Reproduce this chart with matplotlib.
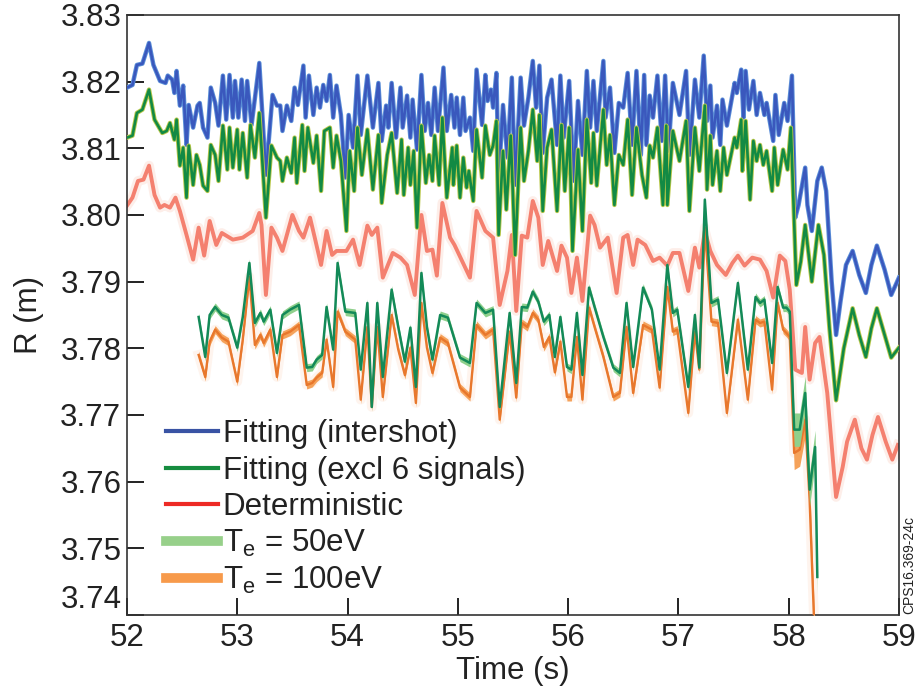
import numpy as np
import matplotlib
matplotlib.use('Agg')
import matplotlib.pyplot as plt
from matplotlib.lines import Line2D

plt.rcParams['font.family'] = ['Liberation Sans', 'DejaVu Sans']
plt.rcParams['mathtext.fontset'] = 'custom'
plt.rcParams['mathtext.rm'] = 'Liberation Sans'

# Fitting (intershot)
t_intershot = [52.00, 52.05, 52.09, 52.14, 52.20, 52.24, 52.30, 52.35, 52.37, 52.41, 52.43, 52.45, 52.48, 52.51,
               52.54, 52.56, 52.60, 52.64, 52.66, 52.69, 52.73, 52.76, 52.80, 52.83, 52.87, 52.90, 52.93, 52.96,
               52.98, 53.01, 53.04, 53.07, 53.09, 53.13, 53.20, 53.26, 53.32, 53.36, 53.39, 53.41, 53.45, 53.49,
               53.52, 53.55, 53.60, 53.62, 53.65, 53.69, 53.72, 53.75, 53.78, 53.81, 53.84, 53.87, 53.90, 53.94,
               53.98, 54.01, 54.05, 54.09, 54.12, 54.18, 54.23, 54.28, 54.31, 54.35, 54.37, 54.40, 54.44, 54.48,
               54.50, 54.54, 54.57, 54.59, 54.63, 54.67, 54.70, 54.73, 54.76, 54.79, 54.82, 54.87, 54.90, 54.94,
               54.97, 54.99, 55.02, 55.05, 55.07, 55.11, 55.14, 55.17, 55.22, 55.25, 55.27, 55.30, 55.32, 55.35,
               55.37, 55.41, 55.45, 55.49, 55.52, 55.57, 55.60, 55.64, 55.68, 55.71, 55.74, 55.77, 55.81, 55.85,
               55.90, 55.93, 55.96, 56.01, 56.05, 56.09, 56.13, 56.17, 56.20, 56.23, 56.26, 56.32, 56.34, 56.38,
               56.42, 56.46, 56.50, 56.54, 56.58, 56.62, 56.66, 56.69, 56.71, 56.74, 56.77, 56.81, 56.85, 56.88,
               56.91, 56.95, 57.01, 57.07, 57.10, 57.15, 57.19, 57.23, 57.26, 57.29, 57.31, 57.35, 57.38, 57.40,
               57.44, 57.51, 57.53, 57.57, 57.59, 57.61, 57.64, 57.68, 57.71, 57.74, 57.78, 57.80, 57.86, 57.88,
               57.91, 57.96, 57.99, 58.03, 58.06, 58.09, 58.15, 58.17, 58.21, 58.26, 58.30, 58.34, 58.39, 58.43,
               58.47, 58.52, 58.58, 58.64, 58.70, 58.75, 58.80, 58.87, 58.93, 59.00]
r_intershot = [3.8191, 3.8195, 3.8225, 3.8227, 3.8258, 3.8225, 3.8201, 3.8198, 3.8209, 3.8203, 3.8183, 3.8216, 3.8164, 3.8194,
               3.8105, 3.8165, 3.8131, 3.8164, 3.8168, 3.8131, 3.8116, 3.8191, 3.8168, 3.8134, 3.8209, 3.8143, 3.8210, 3.8146,
               3.8201, 3.8146, 3.8203, 3.8141, 3.8201, 3.8135, 3.8228, 3.8060, 3.8180, 3.8164, 3.8164, 3.8126, 3.8164, 3.8141,
               3.8191, 3.8165, 3.8224, 3.8146, 3.8209, 3.8150, 3.8191, 3.8161, 3.8195, 3.8171, 3.8210, 3.8146, 3.8194, 3.8150,
               3.8056, 3.8150, 3.8101, 3.8209, 3.8120, 3.8209, 3.8131, 3.8198, 3.8111, 3.8164, 3.8131, 3.8198, 3.8116, 3.8191,
               3.8131, 3.8179, 3.8116, 3.8173, 3.8098, 3.8210, 3.8126, 3.8168, 3.8120, 3.8191, 3.8126, 3.8221, 3.8126, 3.8180,
               3.8131, 3.8176, 3.8120, 3.8176, 3.8126, 3.8146, 3.8096, 3.8218, 3.8135, 3.8210, 3.8171, 3.8188, 3.8161, 3.8213,
               3.8051, 3.8165, 3.8086, 3.8206, 3.8045, 3.8206, 3.8134, 3.8176, 3.8231, 3.8161, 3.8224, 3.8093, 3.8176, 3.8203,
               3.8105, 3.8209, 3.8116, 3.8201, 3.8051, 3.8171, 3.8090, 3.8216, 3.8131, 3.8201, 3.8126, 3.8231, 3.8146, 3.8191,
               3.8093, 3.8168, 3.8161, 3.8213, 3.8105, 3.8216, 3.8090, 3.8210, 3.8105, 3.8179, 3.8146, 3.8209, 3.8111, 3.8209,
               3.8096, 3.8198, 3.8150, 3.8216, 3.8090, 3.8203, 3.8146, 3.8239, 3.8141, 3.8194, 3.8116, 3.8164, 3.8105, 3.8173,
               3.8134, 3.8198, 3.8183, 3.8218, 3.8146, 3.8216, 3.8158, 3.8201, 3.8150, 3.8183, 3.8150, 3.8168, 3.8111, 3.8180,
               3.8120, 3.8168, 3.8141, 3.8209, 3.7996, 3.8015, 3.8071, 3.8015, 3.7976, 3.8051, 3.8071, 3.8036, 3.7900, 3.7820,
               3.7870, 3.7925, 3.7946, 3.7910, 3.7883, 3.7925, 3.7954, 3.7918, 3.7880, 3.7906]

# Fitting (excl 6 signals)
t_excl = [52.00, 52.05, 52.09, 52.14, 52.20, 52.25, 52.32, 52.36, 52.39, 52.43, 52.45, 52.48, 52.51, 52.54,
          52.56, 52.60, 52.63, 52.66, 52.69, 52.73, 52.76, 52.80, 52.83, 52.87, 52.91, 52.93, 52.96, 53.00,
          53.02, 53.05, 53.09, 53.12, 53.16, 53.20, 53.26, 53.31, 53.36, 53.39, 53.41, 53.45, 53.49, 53.52,
          53.54, 53.59, 53.61, 53.64, 53.69, 53.72, 53.76, 53.79, 53.84, 53.87, 53.90, 53.94, 53.99, 54.02,
          54.06, 54.09, 54.13, 54.18, 54.23, 54.28, 54.31, 54.36, 54.40, 54.45, 54.49, 54.51, 54.55, 54.57,
          54.60, 54.63, 54.67, 54.71, 54.74, 54.77, 54.79, 54.83, 54.86, 54.90, 54.95, 54.96, 54.99, 55.02,
          55.05, 55.08, 55.10, 55.14, 55.17, 55.22, 55.25, 55.29, 55.32, 55.35, 55.37, 55.41, 55.44, 55.48,
          55.52, 55.57, 55.60, 55.64, 55.68, 55.72, 55.74, 55.77, 55.81, 55.85, 55.90, 55.94, 55.97, 56.01,
          56.04, 56.09, 56.13, 56.17, 56.21, 56.23, 56.26, 56.32, 56.35, 56.38, 56.42, 56.46, 56.50, 56.54,
          56.58, 56.62, 56.67, 56.71, 56.74, 56.77, 56.81, 56.86, 56.89, 56.90, 56.95, 57.01, 57.07, 57.10,
          57.15, 57.19, 57.24, 57.26, 57.29, 57.31, 57.35, 57.38, 57.41, 57.44, 57.51, 57.53, 57.57, 57.58,
          57.61, 57.65, 57.68, 57.71, 57.74, 57.77, 57.80, 57.85, 57.87, 57.90, 57.95, 57.99, 58.02, 58.07,
          58.11, 58.15, 58.21, 58.27, 58.32, 58.37, 58.43, 58.50, 58.58, 58.64, 58.70, 58.75, 58.80, 58.87,
          58.93, 59.00]
r_excl = [3.8116, 3.8119, 3.8153, 3.8158, 3.8188, 3.8143, 3.8123, 3.8126, 3.8138, 3.8113, 3.8143, 3.8074, 3.8101, 3.8026,
          3.8104, 3.8045, 3.8090, 3.8075, 3.8044, 3.8036, 3.8105, 3.8090, 3.8051, 3.8134, 3.8068, 3.8131, 3.8071, 3.8128,
          3.8068, 3.8123, 3.8056, 3.8135, 3.8086, 3.8153, 3.7996, 3.8104, 3.8086, 3.8081, 3.8051, 3.8086, 3.8063, 3.8116,
          3.8048, 3.8135, 3.8066, 3.8131, 3.8078, 3.8119, 3.8036, 3.8126, 3.8131, 3.8071, 3.8119, 3.8081, 3.7976, 3.8096,
          3.8036, 3.8131, 3.8060, 3.8128, 3.8038, 3.8120, 3.8018, 3.8090, 3.8123, 3.8033, 3.8113, 3.8030, 3.8101, 3.8045,
          3.8096, 3.7981, 3.8134, 3.8048, 3.8090, 3.8051, 3.8119, 3.8045, 3.8146, 3.8026, 3.8101, 3.8045, 3.8104, 3.8026,
          3.8086, 3.8041, 3.8066, 3.8021, 3.8128, 3.8056, 3.8134, 3.8090, 3.8104, 3.8141, 3.7970, 3.8096, 3.8008, 3.8119,
          3.7940, 3.8131, 3.8051, 3.8096, 3.8158, 3.8081, 3.8150, 3.8006, 3.8101, 3.8128, 3.8006, 3.8135, 3.8036, 3.8131,
          3.7946, 3.8098, 3.7976, 3.8143, 3.8048, 3.8123, 3.8044, 3.8158, 3.8075, 3.8120, 3.8015, 3.8090, 3.8075, 3.8143,
          3.8030, 3.8131, 3.8060, 3.8026, 3.8104, 3.8086, 3.8131, 3.8015, 3.8134, 3.8015, 3.8126, 3.8081, 3.8141, 3.8006,
          3.8131, 3.8066, 3.8164, 3.8038, 3.8119, 3.8045, 3.8096, 3.8036, 3.8101, 3.8060, 3.8116, 3.8101, 3.8143, 3.8066,
          3.8141, 3.8023, 3.8111, 3.8081, 3.8105, 3.8075, 3.8096, 3.8036, 3.8101, 3.8045, 3.8098, 3.8068, 3.8131, 3.7895,
          3.7930, 3.7985, 3.7900, 3.7985, 3.7940, 3.7830, 3.7722, 3.7800, 3.7860, 3.7820, 3.7787, 3.7830, 3.7860, 3.7820,
          3.7786, 3.7801]

# Deterministic
t_det = [52.00, 52.05, 52.10, 52.15, 52.20, 52.25, 52.30, 52.34, 52.39, 52.44, 52.48, 52.54, 52.60, 52.65,
         52.70, 52.75, 52.81, 52.86, 52.96, 53.05, 53.14, 53.20, 53.22, 53.26, 53.31, 53.36, 53.41, 53.46,
         53.50, 53.56, 53.60, 53.66, 53.71, 53.76, 53.81, 53.86, 53.90, 53.99, 54.05, 54.11, 54.18, 54.22,
         54.27, 54.32, 54.41, 54.48, 54.54, 54.61, 54.67, 54.72, 54.77, 54.81, 54.86, 54.93, 54.97, 55.11,
         55.17, 55.25, 55.32, 55.38, 55.45, 55.49, 55.53, 55.58, 55.63, 55.68, 55.73, 55.77, 55.82, 55.90,
         55.94, 55.99, 56.03, 56.08, 56.13, 56.20, 56.24, 56.29, 56.36, 56.44, 56.50, 56.54, 56.59, 56.63,
         56.70, 56.77, 56.83, 56.90, 56.95, 57.01, 57.09, 57.15, 57.19, 57.24, 57.29, 57.35, 57.43, 57.49,
         57.54, 57.60, 57.67, 57.74, 57.80, 57.86, 57.92, 57.97, 58.01, 58.06, 58.12, 58.15, 58.19, 58.24,
         58.28, 58.35, 58.43, 58.49, 58.53, 58.60, 58.66, 58.71, 58.76, 58.81, 58.88, 58.94, 58.99]
r_det = [3.8014, 3.8026, 3.8051, 3.8053, 3.8074, 3.8030, 3.8011, 3.8015, 3.8011, 3.8026, 3.8006, 3.7970, 3.7933, 3.7981,
         3.7939, 3.7991, 3.7955, 3.7973, 3.7963, 3.7966, 3.7976, 3.8003, 3.7985, 3.7880, 3.7981, 3.7966, 3.7946, 3.7976,
         3.8000, 3.7976, 3.7966, 3.7996, 3.7961, 3.7925, 3.7976, 3.7940, 3.7946, 3.7946, 3.7963, 3.7925, 3.7984, 3.7970,
         3.7981, 3.7906, 3.7943, 3.7936, 3.7925, 3.7880, 3.8000, 3.7946, 3.7948, 3.7909, 3.8018, 3.7966, 3.7955, 3.7906,
         3.8006, 3.7976, 3.7966, 3.7865, 3.7916, 3.7970, 3.7856, 3.7969, 3.7966, 3.8021, 3.7996, 3.7925, 3.7961, 3.7916,
         3.7954, 3.7936, 3.7883, 3.7936, 3.7871, 3.7999, 3.7985, 3.7951, 3.7966, 3.7883, 3.7966, 3.7970, 3.7925, 3.7963,
         3.7955, 3.7931, 3.7936, 3.7924, 3.7943, 3.7943, 3.7886, 3.7951, 3.7921, 3.7976, 3.7946, 3.7925, 3.7910, 3.7928,
         3.7939, 3.7924, 3.7936, 3.7933, 3.7916, 3.7876, 3.7939, 3.7931, 3.7888, 3.7768, 3.7763, 3.7832, 3.7753, 3.7808,
         3.7817, 3.7733, 3.7577, 3.7622, 3.7660, 3.7693, 3.7650, 3.7633, 3.7670, 3.7697, 3.7660, 3.7633, 3.7655]

# Te = 50eV and Te = 100eV (same time base)
t_te = [52.65, 52.71, 52.75, 52.80, 52.86, 52.92, 53.00, 53.05, 53.11, 53.16, 53.21, 53.24, 53.30, 53.36,
        53.41, 53.48, 53.56, 53.63, 53.68, 53.72, 53.77, 53.81, 53.87, 53.91, 53.98, 54.07, 54.12, 54.18,
        54.22, 54.27, 54.32, 54.40, 54.46, 54.52, 54.57, 54.62, 54.67, 54.72, 54.77, 54.84, 54.91, 55.02,
        55.11, 55.17, 55.25, 55.32, 55.38, 55.47, 55.53, 55.58, 55.63, 55.68, 55.73, 55.78, 55.83, 55.88,
        55.93, 55.99, 56.03, 56.08, 56.13, 56.19, 56.24, 56.32, 56.41, 56.47, 56.53, 56.59, 56.68, 56.76,
        56.83, 56.90, 56.95, 56.99, 57.09, 57.15, 57.19, 57.24, 57.30, 57.36, 57.44, 57.54, 57.63, 57.70,
        57.74, 57.78, 57.85, 57.90, 57.95, 57.98, 58.01, 58.05, 58.10, 58.15, 58.19, 58.24, 58.26]
r_te50 = [3.7847, 3.7787, 3.7850, 3.7862, 3.7850, 3.7846, 3.7801, 3.7847, 3.7928, 3.7838, 3.7853, 3.7840, 3.7858, 3.7793,
          3.7850, 3.7858, 3.7865, 3.7771, 3.7772, 3.7783, 3.7790, 3.7862, 3.7798, 3.7928, 3.7855, 3.7853, 3.7768, 3.7868,
          3.7712, 3.7868, 3.7757, 3.7888, 3.7832, 3.7780, 3.7831, 3.7742, 3.7913, 3.7832, 3.7783, 3.7850, 3.7846, 3.7786,
          3.7778, 3.7868, 3.7853, 3.7858, 3.7712, 3.7853, 3.7748, 3.7862, 3.7861, 3.7885, 3.7870, 3.7840, 3.7850, 3.7787,
          3.7847, 3.7772, 3.7768, 3.7853, 3.7760, 3.7891, 3.7862, 3.7817, 3.7771, 3.7763, 3.7868, 3.7772, 3.7891, 3.7858,
          3.7768, 3.7925, 3.7853, 3.7858, 3.7742, 3.7850, 3.7771, 3.8023, 3.7868, 3.7873, 3.7763, 3.7898, 3.7768, 3.7877,
          3.7868, 3.7873, 3.7778, 3.7892, 3.7861, 3.7861, 3.7855, 3.7678, 3.7678, 3.7733, 3.7588, 3.7652, 3.7457]
r_te100 = [3.7790, 3.7757, 3.7810, 3.7828, 3.7816, 3.7810, 3.7750, 3.7813, 3.7907, 3.7805, 3.7820, 3.7808, 3.7828, 3.7757,
           3.7820, 3.7825, 3.7835, 3.7745, 3.7748, 3.7756, 3.7763, 3.7813, 3.7742, 3.7855, 3.7825, 3.7813, 3.7723, 3.7832,
           3.7712, 3.7832, 3.7727, 3.7850, 3.7798, 3.7760, 3.7801, 3.7718, 3.7868, 3.7801, 3.7763, 3.7816, 3.7808, 3.7741,
           3.7727, 3.7835, 3.7820, 3.7828, 3.7693, 3.7825, 3.7726, 3.7838, 3.7832, 3.7853, 3.7843, 3.7802, 3.7817, 3.7764,
           3.7810, 3.7727, 3.7727, 3.7817, 3.7723, 3.7861, 3.7832, 3.7787, 3.7727, 3.7733, 3.7832, 3.7733, 3.7835, 3.7828,
           3.7741, 3.7892, 3.7825, 3.7828, 3.7703, 3.7825, 3.7768, 3.7981, 3.7840, 3.7838, 3.7703, 3.7843, 3.7723, 3.7843,
           3.7838, 3.7840, 3.7738, 3.7868, 3.7828, 3.7823, 3.7817, 3.7643, 3.7648, 3.7693, 3.7573, 3.7348, 3.7200]
# half widths of the shaded bands
te_band = 0.0006
te_band_late = 0.0025

t_te = np.array(t_te)
band = np.where(t_te > 58.02, te_band_late, te_band)

fig = plt.figure(figsize=(9.2, 6.92), dpi=100)
ax = fig.add_axes([0.138, 0.1113, 0.8391, 0.8671])

# faint halos first
ax.plot(t_det, r_det, color='#fdeee9', lw=7, solid_joinstyle='round', zorder=1)
ax.plot(t_te, r_te100, color='#fef4ee', lw=7, zorder=1)

ax.plot(t_intershot, r_intershot, color='#5b8fd8', lw=3.2, zorder=3)
ax.plot(t_intershot, r_intershot, color='#3a58bd', lw=1.9, zorder=3)
ax.plot(t_excl, r_excl, color='#b9c84a', lw=3.2, zorder=3)
ax.plot(t_excl, r_excl, color='#128a44', lw=1.9, zorder=3)
ax.plot(t_det, r_det, color='#f4806f', lw=2.8, zorder=2)

ax.fill_between(t_te, np.array(r_te100) - band, np.array(r_te100) + band, color='#f5a25a', lw=0, zorder=4)
ax.plot(t_te, r_te100, color='#e8772c', lw=1.7, zorder=4)
ax.fill_between(t_te, np.array(r_te50) - band, np.array(r_te50) + band, color='#8fd08c', lw=0, zorder=5)
ax.plot(t_te, r_te50, color='#138a58', lw=1.8, zorder=5)

ax.set_xlim(52, 59)
ax.set_ylim(3.74, 3.83)
ax.set_xticks(np.arange(52, 60, 1))
ax.set_yticks(np.arange(3.74, 3.8351, 0.01))
ax.set_yticklabels(['%.2f' % v for v in np.arange(3.74, 3.8351, 0.01)])
ax.tick_params(direction='in', length=12, width=1.4, colors='#222222', top=False, right=False)
ax.tick_params(axis='y', labelsize=22.5, pad=4)
ax.tick_params(axis='x', labelsize=22.5, pad=6)
ax.get_yticklabels()[0].set_verticalalignment('bottom')
for sp in ax.spines.values():
    sp.set_color('#333333')
    sp.set_linewidth(1.2)

ax.set_xlabel('Time (s)', fontsize=22.5, labelpad=2, color='#222222')
ax.set_ylabel('R (m)', fontsize=22.5, labelpad=12, color='#222222')

handles = [Line2D([], [], color='#3953a4', lw=3),
           Line2D([], [], color='#168c3f', lw=3),
           Line2D([], [], color='#ed2a25', lw=3),
           Line2D([], [], color='#97d08a', lw=7),
           Line2D([], [], color='#f79a4b', lw=7)]
labels = ['Fitting (intershot)', 'Fitting (excl 6 signals)', 'Deterministic',
          r'T$_\mathregular{e}$ = 50eV', r'T$_\mathregular{e}$ = 100eV']
leg = ax.legend(handles, labels, loc='lower left', bbox_to_anchor=(0.035, 0.01), frameon=False,
                fontsize=22.5, handlelength=1.65, handletextpad=0.15, labelspacing=0.2, borderaxespad=0)
for txt in leg.get_texts():
    txt.set_color('#222222')

fig.text(0.988, 0.112, 'CPS16.369-24c', rotation=90, fontsize=10, ha='center', va='bottom', color='#222222')

fig.savefig('out.png', dpi=100)
